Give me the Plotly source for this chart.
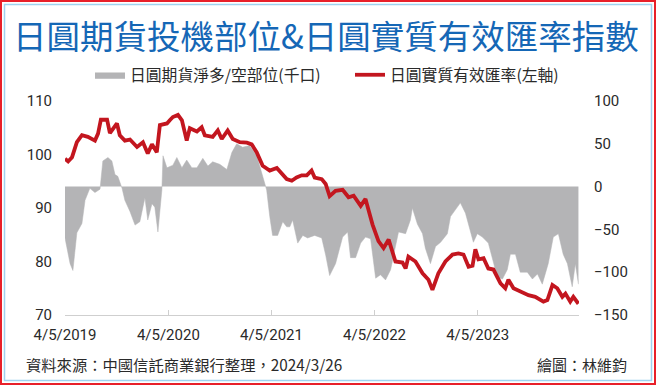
import plotly.graph_objects as go

# ---------------- data ----------------
reer_dates = [
    "2019-04-05", "2019-04-16", "2019-04-30", "2019-05-17", "2019-06-04", "2019-06-25",
    "2019-07-20", "2019-07-31", "2019-08-10", "2019-09-01", "2019-09-11", "2019-10-06",
    "2019-10-16", "2019-11-03", "2019-11-21", "2019-12-16", "2020-01-06", "2020-01-23",
    "2020-02-07", "2020-02-24", "2020-03-06", "2020-03-31", "2020-04-10", "2020-04-21",
    "2020-05-09", "2020-05-23", "2020-06-09", "2020-06-20", "2020-07-15", "2020-08-01",
    "2020-08-12", "2020-09-09", "2020-09-27", "2020-10-11", "2020-11-01", "2020-11-19",
    "2020-12-14", "2021-01-08", "2021-01-25", "2021-02-12", "2021-03-05", "2021-03-30",
    "2021-04-24", "2021-05-11", "2021-05-29", "2021-06-16", "2021-07-03", "2021-07-21",
    "2021-08-08", "2021-08-25", "2021-09-05", "2021-09-30", "2021-10-14", "2021-10-28",
    "2021-11-18", "2021-12-13", "2022-01-03", "2022-01-21", "2022-02-15", "2022-03-04",
    "2022-03-29", "2022-04-19", "2022-05-07", "2022-05-25", "2022-06-18", "2022-07-13",
    "2022-07-24", "2022-08-03", "2022-08-28", "2022-09-22", "2022-10-13", "2022-10-27",
    "2022-11-17", "2022-12-12", "2023-01-06", "2023-01-27", "2023-02-14", "2023-03-04",
    "2023-03-18", "2023-03-28", "2023-04-08", "2023-04-26", "2023-05-13", "2023-05-31",
    "2023-06-25", "2023-07-12", "2023-07-23", "2023-08-10", "2023-09-11", "2023-10-02",
    "2023-10-26", "2023-11-24", "2023-12-08", "2023-12-26", "2024-01-12", "2024-01-30",
    "2024-02-10", "2024-02-27", "2024-03-09", "2024-03-27",
]
reer_values = [
    99.2, 98.7, 99.5, 102.3, 103.6, 103.3,
    102.6, 103.9, 106.5, 106.5, 104.0, 105.8,
    103.6, 102.6, 102.8, 101.4, 102.3, 100.2,
    101.9, 100.4, 105.5, 105.8, 106.4, 107.0,
    107.4, 106.4, 102.6, 104.9, 104.3, 105.1,
    103.6, 103.3, 104.5, 102.9, 104.5, 102.9,
    102.3, 102.2, 101.9, 100.4, 97.9, 97.0,
    97.5, 96.4, 95.4, 95.1, 95.7, 96.1,
    96.1, 97.0, 95.7, 95.4, 94.5, 92.2,
    93.2, 93.4, 92.0, 92.3, 90.4, 91.7,
    86.9, 83.8, 82.5, 84.1, 80.0, 79.8,
    78.7, 80.9, 80.0, 77.8, 76.6, 74.7,
    77.8, 80.0, 81.3, 81.5, 81.3, 79.0,
    79.2, 82.3, 80.4, 80.6, 78.7, 78.5,
    75.9, 75.0, 76.6, 75.0, 74.3, 73.7,
    73.4, 72.5, 72.8, 75.6, 75.0, 73.4,
    74.0, 72.5, 73.4, 72.1,
]

pos_dates = [
    "2019-04-05", "2019-04-23", "2019-05-03", "2019-05-17", "2019-06-04", "2019-06-15",
    "2019-07-02", "2019-07-20", "2019-08-07", "2019-08-17", "2019-09-04", "2019-09-18",
    "2019-09-29", "2019-10-09", "2019-10-24", "2019-11-03", "2019-11-21", "2019-12-09",
    "2019-12-26", "2020-01-13", "2020-01-23", "2020-02-07", "2020-02-17", "2020-02-28",
    "2020-03-13", "2020-03-17", "2020-03-31", "2020-04-21", "2020-05-05", "2020-05-23",
    "2020-06-09", "2020-06-27", "2020-07-15", "2020-08-05", "2020-08-23", "2020-09-09",
    "2020-10-04", "2020-10-29", "2020-11-16", "2020-12-03", "2020-12-24", "2021-01-18",
    "2021-02-12", "2021-03-05", "2021-03-19", "2021-03-30", "2021-04-09", "2021-04-27",
    "2021-05-15", "2021-05-29", "2021-06-09", "2021-06-19", "2021-07-07", "2021-07-25",
    "2021-08-11", "2021-09-05", "2021-09-30", "2021-10-14", "2021-10-28", "2021-11-18",
    "2021-12-13", "2021-12-31", "2022-01-10", "2022-01-28", "2022-02-15", "2022-03-04",
    "2022-03-22", "2022-04-09", "2022-04-26", "2022-05-14", "2022-06-01", "2022-06-18",
    "2022-06-29", "2022-07-24", "2022-08-10", "2022-08-17", "2022-09-04", "2022-09-22",
    "2022-10-02", "2022-10-20", "2022-11-07", "2022-11-25", "2022-12-19", "2022-12-30",
    "2023-01-17", "2023-02-03", "2023-02-21", "2023-03-11", "2023-03-21", "2023-04-04",
    "2023-04-22", "2023-05-13", "2023-05-27", "2023-06-14", "2023-07-02", "2023-07-19",
    "2023-07-30", "2023-08-17", "2023-09-03", "2023-09-28", "2023-10-16", "2023-11-03",
    "2023-11-20", "2023-12-11", "2023-12-29", "2024-01-16", "2024-02-02", "2024-02-17",
    "2024-03-05", "2024-03-16", "2024-03-27",
]
pos_values = [
    -60, -90, -98, -54, -43, -16,
    -2, -7, -3, 30, 34, 30,
    14, 12, -2, -16, -29, -45,
    -41, -13, -39, -20, -24, -53,
    -4, 36, 22, 25, 34, 22,
    31, 22, 22, 33, 24, 29,
    26, 20, 40, 50, 46, 48,
    36, 12, -4, -35, -57, -57,
    -41, -47, -47, -39, -66, -57,
    -60, -57, -60, -80, -104, -90,
    -59, -53, -83, -83, -66, -59,
    -61, -107, -103, -109, -97, -70,
    -53, -55, -39, -25, -44, -55,
    -72, -90, -70, -65, -55, -35,
    -27, -19, -31, -55, -65, -55,
    -59, -66, -83, -106, -108, -97,
    -79, -79, -100, -100, -108, -102,
    -114, -90, -59, -55, -79, -90,
    -117, -90, -114,
]

x_tick_vals = ["2019-04-05", "2020-04-05", "2021-04-05", "2022-04-05", "2023-04-05"]
x_tick_text = ["4/5/2019", "4/5/2020", "4/5/2021", "4/5/2022", "4/5/2023"]
left_ticks = [70, 80, 90, 100, 110]
right_ticks = [-150, -100, -50, 0, 50, 100]

title_text = "日圓期貨投機部位&日圓實質有效匯率指數"
name_pos = "日圓期貨淨多/空部位(千口)"
name_reer = "日圓實質有效匯率(左軸)"
source_text = "資料來源：中國信託商業銀行整理，2024/3/26"
credit_text = "繪圖：林維鈞"

# ---------------- layout constants ----------------
W, H = 656, 385
ML, MR, MT, MB = 65, 77, 101, 70
CJK = "Noto Sans CJK TC"
NUM = "Roboto"
GRAY = "#b4b4b6"
RED = "#c3161f"
BLUE = "#1567b6"
TXT = "#2a2a2a"


def px_x(p):
    return (p - ML) / (W - ML - MR)


def px_y(p):
    return (H - MB - p) / (H - MT - MB)


fig = go.Figure()
# position (right axis) is on the base y axis so the left-axis red line (y2) draws on top
fig.add_trace(go.Scatter(
    x=pos_dates, y=pos_values, yaxis="y", name=name_pos, legend="legend",
    mode="lines", fill="tozeroy", fillcolor=GRAY,
    line=dict(color=GRAY, width=0.5),
))
fig.add_trace(go.Scatter(
    x=reer_dates, y=reer_values, yaxis="y2", name=name_reer, legend="legend2",
    mode="lines", line=dict(color=RED, width=3.8),
))

leg_common = dict(
    orientation="h", xref="container", yref="container",
    xanchor="left", yanchor="middle",
    font=dict(family=CJK, size=15.8, color=TXT),
    itemwidth=30, bgcolor="rgba(0,0,0,0)",
)

fig.update_layout(
    width=W, height=H,
    margin=dict(l=ML, r=MR, t=MT, b=MB, autoexpand=False),
    paper_bgcolor="white", plot_bgcolor="white",
    font=dict(family=CJK, color=TXT),
    showlegend=True,
    legend=dict(x=90 / W, y=1 - 75 / H, **leg_common),
    legend2=dict(x=350 / W, y=1 - 75 / H, **leg_common),
    xaxis=dict(
        type="date", range=["2019-04-05", "2024-03-29"],
        tickvals=x_tick_vals, ticktext=x_tick_text,
        showgrid=False, zeroline=False,
        showline=True, linecolor="#cfcfcf", linewidth=1.2,
        ticks="inside", ticklen=5, tickcolor="#cfcfcf",
        tickfont=dict(family=NUM, size=15, color=TXT),
        ticklabelstandoff=6,
    ),
    yaxis=dict(
        range=[-150, 100], tickvals=right_ticks, side="right",
        showgrid=False, zeroline=False, showline=False,
        tickfont=dict(family=NUM, size=15, color=TXT),
        ticklabelstandoff=14,
    ),
    yaxis2=dict(
        range=[70, 110], tickvals=left_ticks,
        overlaying="y", side="left",
        showgrid=False, zeroline=False, showline=False,
        tickfont=dict(family=NUM, size=15, color=TXT),
        ticklabelstandoff=12,
    ),
    annotations=[
        dict(text=title_text, xref="paper", yref="paper",
             x=px_x(326), y=px_y(34), xanchor="center", yanchor="middle",
             showarrow=False, font=dict(family=CJK, size=33.5, color=BLUE)),
        dict(text=source_text, xref="paper", yref="paper",
             x=px_x(24), y=px_y(364), xanchor="left", yanchor="middle",
             showarrow=False, font=dict(family=CJK, size=15.3, color=TXT)),
        dict(text=credit_text, xref="paper", yref="paper",
             x=px_x(629), y=px_y(364), xanchor="right", yanchor="middle",
             showarrow=False, font=dict(family=CJK, size=15, color=TXT)),
    ],
    shapes=[
        dict(type="rect", xref="paper", yref="paper", layer="above",
             x0=px_x(1), x1=px_x(655), y0=px_y(1), y1=px_y(384),
             line=dict(color="#e8202a", width=2), fillcolor="rgba(0,0,0,0)"),
        dict(type="rect", xref="paper", yref="paper", layer="above",
             x0=px_x(4.5), x1=px_x(651.5), y0=px_y(4.5), y1=px_y(380.5),
             line=dict(color="#9fd3f0", width=1.5), fillcolor="rgba(0,0,0,0)"),
    ],
)

fig.write_html("out.html")
